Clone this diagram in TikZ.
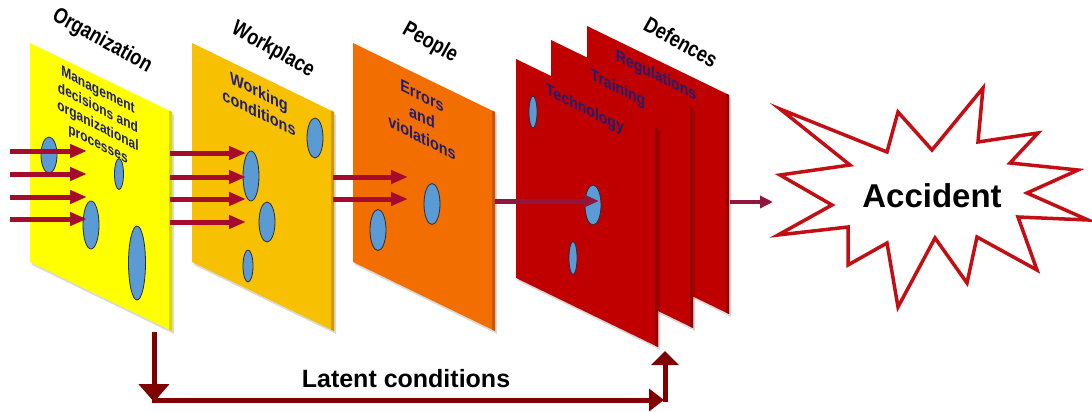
\documentclass[tikz,border=0pt]{standalone}
\usepackage{fontspec}
\setmainfont{Liberation Sans}
\usetikzlibrary{arrows.meta,shapes.geometric}

\definecolor{pyellow}{RGB}{255,255,0}
\definecolor{pyellowd}{RGB}{214,214,0}
\definecolor{pgold}{RGB}{247,192,0}
\definecolor{pgoldd}{RGB}{205,155,0}
\definecolor{porange}{RGB}{243,110,0}
\definecolor{porangd}{RGB}{200,85,0}
\definecolor{pred}{RGB}{192,0,0}
\definecolor{predd}{RGB}{150,0,0}
\definecolor{holeblue}{RGB}{91,155,213}
\definecolor{holeline}{RGB}{40,45,60}
\definecolor{arrowred}{RGB}{166,10,45}
\definecolor{arrowpurple}{RGB}{145,22,60}
\definecolor{latent}{RGB}{128,0,0}
\definecolor{navytext}{RGB}{32,30,112}
\definecolor{starred}{RGB}{195,15,20}

\newcommand{\drawpanel}[4]{%
  \fill[black, opacity=0.15] (#1+2,#2+3) -- ++(142,69) -- ++(0,219) -- ++(-142,-69) -- cycle;
  \fill[#3] (#1,#2) -- ++(142,69) -- ++(0,219) -- ++(-142,-69) -- cycle;
  \fill[#4] (#1+139,#2+67.5) -- (#1+142,#2+69) -- ++(0,219) -- (#1+139,#2+286.5) -- cycle;
}

\begin{document}
\begin{tikzpicture}[x=1pt,y=-1pt,
  hole/.style={ellipse, draw=holeline, fill=holeblue, line width=0.8pt, inner sep=0pt},
  flow/.style={line width=5pt, draw=arrowred, -{Triangle[length=17pt,width=13pt]}},
  title/.style={font=\bfseries\fontsize{22}{26}\selectfont, text=black, cm={0.7172,-0.3975,0.4848,0.8746,(0,0)}},
  inner/.style 2 args={font=\bfseries\fontsize{#1}{#2}\selectfont, text=navytext, align=center, cm={0.85,-0.425,0,1,(0,0)}},
  latentarrow/.style={line width=5pt, draw=latent}
]
\useasboundingbox (0,0) rectangle (1092,412);
\fill[white] (0,0) rectangle (1092,412);

% ---------- Panel 1: Organization ----------
\drawpanel{30}{43}{pyellow}{pyellowd}
\node[hole, minimum width=16pt, minimum height=36pt] (o1) at (49,155) {};
\node[hole, minimum width=9pt, minimum height=31pt] (o2) at (119,174) {};
\node[hole, minimum width=16pt, minimum height=48pt] (o3) at (91,225) {};
\node[hole, minimum width=17pt, minimum height=74pt] (o4) at (137,263) {};
\node[font=\bfseries\fontsize{15}{18}\selectfont, text=navytext, align=center, cm={0.8,-0.41,0,1,(0,0)}] (t1) at (98,118) {Management\\decisions and\\organizational\\processes};

% ---------- Panel 2: Workplace ----------
\drawpanel{192}{43}{pgold}{pgoldd}
\node[hole, minimum width=16pt, minimum height=40pt] (w1) at (315,138) {};
\node[hole, minimum width=16pt, minimum height=50pt] (w2) at (251,176) {};
\node[hole, minimum width=16pt, minimum height=40pt] (w3) at (267,222) {};
\node[hole, minimum width=10pt, minimum height=32pt] (w4) at (248,266) {};
\node[inner={17}{21}] (t2) at (259,102) {Working\\conditions};

% ---------- Panel 3: People ----------
\drawpanel{353}{43}{porange}{porangd}
\node[hole, minimum width=16pt, minimum height=41pt] (p1) at (432,204) {};
\node[hole, minimum width=16pt, minimum height=41pt] (p2) at (378,230) {};
\node[inner={17}{21}] (t3) at (422,117) {Errors\\and\\violations};

% ---------- Defences ----------
\drawpanel{587}{26}{pred}{predd}
\node[inner={16.5}{20}] (t6) at (656,76) {Regulations};
\drawpanel{551}{40}{pred}{predd}
\node[inner={16.5}{20}] (t5) at (618,89) {Training};
\drawpanel{516}{59}{pred}{predd}
\node[inner={16.5}{20}] (t4) at (585,110) {Technology};
\node[hole, minimum width=8pt, minimum height=32pt] (d1) at (533,112) {};
\node[hole, minimum width=16pt, minimum height=40pt] (d2) at (593,205) {};
\node[hole, minimum width=8pt, minimum height=33pt] (d3) at (573,258) {};

% ---------- Titles ----------
\node[title] (h1) at (102,41) {Organization};
\node[title] (h2) at (273,50) {Workplace};
\node[title] (h3) at (430,43) {People};
\node[title] (h4) at (681,42) {Defences};

% ---------- Flow arrows ----------
\foreach \i/\yy in {1/151,2/174,3/197,4/219}{
  \coordinate (as\i) at (10,\yy);
  \coordinate (ae\i) at (87,\yy);
  \draw[flow] (as\i) -- (ae\i);
}
\foreach \i/\yy in {1/153,2/177,3/199,4/222}{
  \coordinate (bs\i) at (170,\yy);
  \coordinate (be\i) at (246,\yy);
  \draw[flow] (bs\i) -- (be\i);
}
\foreach \i/\yy in {1/177,2/199}{
  \coordinate (cs\i) at (333,\yy);
  \coordinate (ce\i) at (408,\yy);
  \draw[flow] (cs\i) -- (ce\i);
}
\coordinate (ds) at (495,201);
\coordinate (de) at (599,201);
\draw[line width=5pt, draw=arrowpurple, -{Triangle[length=15pt,width=12pt]}] (ds) -- (de);

% ---------- Accident ----------
\draw[draw=starred, fill=white, line width=3.5pt, line join=miter]
  (780,109) -- (887,152) -- (898,112) -- (932,150) -- (983,88) -- (978,142)
  -- (1038,133) -- (1010,163) -- (1078,170) -- (1027,193) -- (1088,220)
  -- (1018,217) -- (1037,270) -- (977,237) -- (967,283) -- (935,238)
  -- (898,307) -- (887,243) -- (848,265) -- (848,227) -- (778,235)
  -- (832,205) -- (780,175) -- (850,165) -- cycle;
\node[font=\bfseries\fontsize{33}{38}\selectfont] (acc) at (932,196) {Accident};
\coordinate (es) at (730,202);
\coordinate (ee) at (773,202);
\draw[line width=3.5pt, draw=arrowpurple, -{Triangle[length=13pt,width=12pt]}] (es) -- (ee);

% ---------- Latent conditions ----------
\coordinate (l0) at (154,332);
\coordinate (l1) at (154,402);
\coordinate (l2) at (152,400);
\coordinate (l3) at (664,400);
\coordinate (l4) at (665,402);
\coordinate (l5) at (665,351);
\draw[latentarrow, -{Triangle[length=18pt,width=30pt]}] (l0) -- (l1);
\draw[latentarrow, -{Triangle[length=15pt,width=22pt]}] (l2) -- (l3);
\draw[latentarrow, -{Triangle[length=14pt,width=27pt]}] (l4) -- (l5);
\node[font=\bfseries\fontsize{25}{30}\selectfont] (lat) at (406,379) {Latent conditions};
\end{tikzpicture}
\end{document}
